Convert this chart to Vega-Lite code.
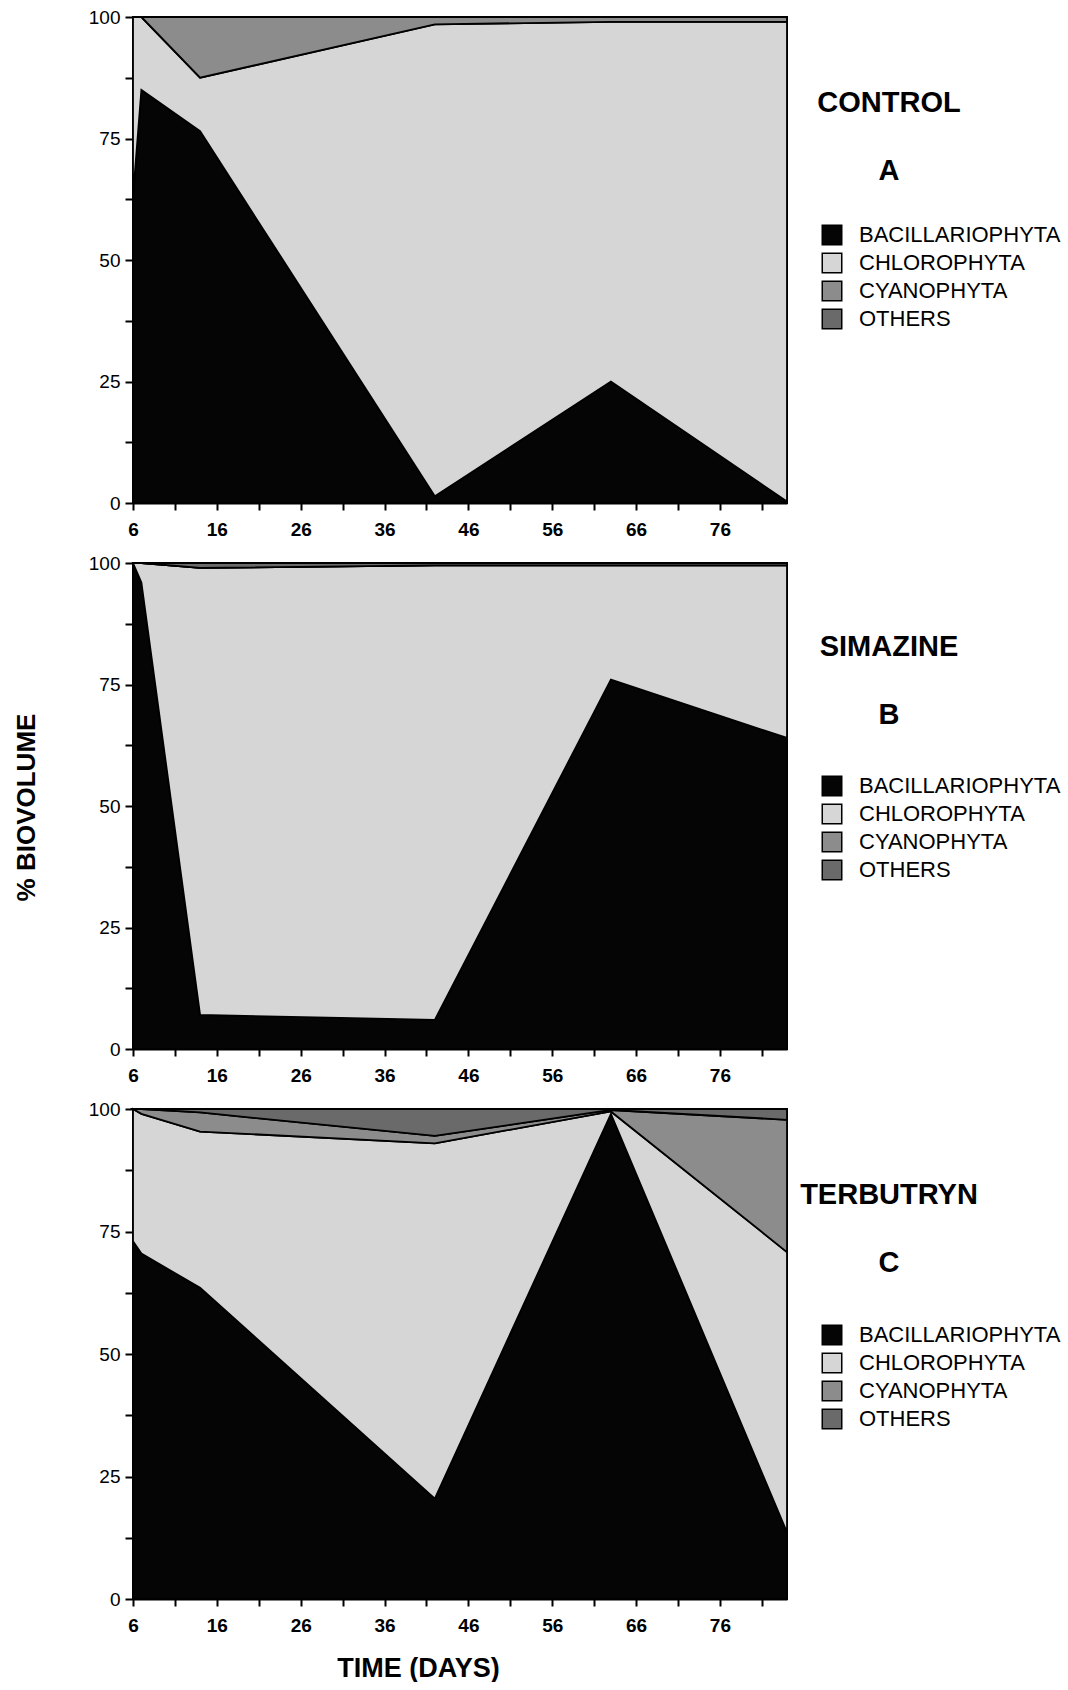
{
  "$schema": "https://vega.github.io/schema/vega-lite/v6.json",
  "background": "white",
  "padding": {"left": 12, "top": 7, "right": 0, "bottom": 0},
  "bounds": "flush",
  "spacing": 60,
  "resolve": {"legend": {"color": "independent"}},
  "config": {
    "font": "Liberation Sans",
    "view": {"stroke": "black", "strokeWidth": 2},
    "axis": {"grid": false, "domainColor": "black", "domainWidth": 2, "tickColor": "black", "tickWidth": 2, "labelColor": "black", "labelFont": "Liberation Sans", "labelFontSize": 19, "titleColor": "black", "titleFont": "Liberation Sans", "titleFontWeight": "bold", "titleFontSize": 26},
    "axisX": {"tickSize": 7, "labelPadding": 10, "labelFontWeight": "bold"},
    "axisY": {"tickSize": 8, "labelPadding": 5},
    "title": {"anchor": "middle", "frame": "group", "align": "center", "fontSize": 29, "fontWeight": "bold", "color": "black", "subtitleFontSize": 29, "subtitleFontWeight": "bold", "subtitleColor": "black", "subtitleFont": "Liberation Sans", "subtitlePadding": 39, "dx": 429, "offset": 0},
    "legend": {"orient": "none", "legendX": 688, "title": null, "symbolType": "square", "symbolSize": 380, "symbolStrokeColor": "black", "symbolStrokeWidth": 1.5, "symbolOpacity": 1, "labelFont": "Liberation Sans", "labelFontSize": 22, "labelColor": "black", "labelLimit": 400, "rowPadding": 2, "labelOffset": 16}
  },
  "datasets": {
    "bio": [
      {"panel": "A", "day": 6, "group": "BACILLARIOPHYTA", "pct": 63},
      {"panel": "A", "day": 6, "group": "CHLOROPHYTA", "pct": 37},
      {"panel": "A", "day": 6, "group": "CYANOPHYTA", "pct": 0},
      {"panel": "A", "day": 6, "group": "OTHERS", "pct": 0},
      {"panel": "A", "day": 7, "group": "BACILLARIOPHYTA", "pct": 85},
      {"panel": "A", "day": 7, "group": "CHLOROPHYTA", "pct": 15},
      {"panel": "A", "day": 7, "group": "CYANOPHYTA", "pct": 0},
      {"panel": "A", "day": 7, "group": "OTHERS", "pct": 0},
      {"panel": "A", "day": 14, "group": "BACILLARIOPHYTA", "pct": 76.5},
      {"panel": "A", "day": 14, "group": "CHLOROPHYTA", "pct": 11},
      {"panel": "A", "day": 14, "group": "CYANOPHYTA", "pct": 12.5},
      {"panel": "A", "day": 14, "group": "OTHERS", "pct": 0},
      {"panel": "A", "day": 42, "group": "BACILLARIOPHYTA", "pct": 1.4},
      {"panel": "A", "day": 42, "group": "CHLOROPHYTA", "pct": 97.1},
      {"panel": "A", "day": 42, "group": "CYANOPHYTA", "pct": 1.5},
      {"panel": "A", "day": 42, "group": "OTHERS", "pct": 0},
      {"panel": "A", "day": 63, "group": "BACILLARIOPHYTA", "pct": 25},
      {"panel": "A", "day": 63, "group": "CHLOROPHYTA", "pct": 74},
      {"panel": "A", "day": 63, "group": "CYANOPHYTA", "pct": 1},
      {"panel": "A", "day": 63, "group": "OTHERS", "pct": 0},
      {"panel": "A", "day": 84, "group": "BACILLARIOPHYTA", "pct": 0.3},
      {"panel": "A", "day": 84, "group": "CHLOROPHYTA", "pct": 98.7},
      {"panel": "A", "day": 84, "group": "CYANOPHYTA", "pct": 1},
      {"panel": "A", "day": 84, "group": "OTHERS", "pct": 0},
      {"panel": "B", "day": 6, "group": "BACILLARIOPHYTA", "pct": 100},
      {"panel": "B", "day": 6, "group": "CHLOROPHYTA", "pct": 0},
      {"panel": "B", "day": 6, "group": "CYANOPHYTA", "pct": 0},
      {"panel": "B", "day": 6, "group": "OTHERS", "pct": 0},
      {"panel": "B", "day": 7, "group": "BACILLARIOPHYTA", "pct": 96},
      {"panel": "B", "day": 7, "group": "CHLOROPHYTA", "pct": 4},
      {"panel": "B", "day": 7, "group": "CYANOPHYTA", "pct": 0},
      {"panel": "B", "day": 7, "group": "OTHERS", "pct": 0},
      {"panel": "B", "day": 14, "group": "BACILLARIOPHYTA", "pct": 7},
      {"panel": "B", "day": 14, "group": "CHLOROPHYTA", "pct": 92},
      {"panel": "B", "day": 14, "group": "CYANOPHYTA", "pct": 0},
      {"panel": "B", "day": 14, "group": "OTHERS", "pct": 1},
      {"panel": "B", "day": 42, "group": "BACILLARIOPHYTA", "pct": 6},
      {"panel": "B", "day": 42, "group": "CHLOROPHYTA", "pct": 93.5},
      {"panel": "B", "day": 42, "group": "CYANOPHYTA", "pct": 0},
      {"panel": "B", "day": 42, "group": "OTHERS", "pct": 0.5},
      {"panel": "B", "day": 63, "group": "BACILLARIOPHYTA", "pct": 76},
      {"panel": "B", "day": 63, "group": "CHLOROPHYTA", "pct": 23.5},
      {"panel": "B", "day": 63, "group": "CYANOPHYTA", "pct": 0},
      {"panel": "B", "day": 63, "group": "OTHERS", "pct": 0.5},
      {"panel": "B", "day": 84, "group": "BACILLARIOPHYTA", "pct": 64},
      {"panel": "B", "day": 84, "group": "CHLOROPHYTA", "pct": 35.5},
      {"panel": "B", "day": 84, "group": "CYANOPHYTA", "pct": 0},
      {"panel": "B", "day": 84, "group": "OTHERS", "pct": 0.5},
      {"panel": "C", "day": 6, "group": "BACILLARIOPHYTA", "pct": 73},
      {"panel": "C", "day": 6, "group": "CHLOROPHYTA", "pct": 27},
      {"panel": "C", "day": 6, "group": "CYANOPHYTA", "pct": 0},
      {"panel": "C", "day": 6, "group": "OTHERS", "pct": 0},
      {"panel": "C", "day": 7, "group": "BACILLARIOPHYTA", "pct": 70.5},
      {"panel": "C", "day": 7, "group": "CHLOROPHYTA", "pct": 28.5},
      {"panel": "C", "day": 7, "group": "CYANOPHYTA", "pct": 1},
      {"panel": "C", "day": 7, "group": "OTHERS", "pct": 0},
      {"panel": "C", "day": 14, "group": "BACILLARIOPHYTA", "pct": 63.5},
      {"panel": "C", "day": 14, "group": "CHLOROPHYTA", "pct": 31.9},
      {"panel": "C", "day": 14, "group": "CYANOPHYTA", "pct": 3.9},
      {"panel": "C", "day": 14, "group": "OTHERS", "pct": 0.7},
      {"panel": "C", "day": 42, "group": "BACILLARIOPHYTA", "pct": 20.5},
      {"panel": "C", "day": 42, "group": "CHLOROPHYTA", "pct": 72.5},
      {"panel": "C", "day": 42, "group": "CYANOPHYTA", "pct": 1.5},
      {"panel": "C", "day": 42, "group": "OTHERS", "pct": 5.5},
      {"panel": "C", "day": 63, "group": "BACILLARIOPHYTA", "pct": 99},
      {"panel": "C", "day": 63, "group": "CHLOROPHYTA", "pct": 0.5},
      {"panel": "C", "day": 63, "group": "CYANOPHYTA", "pct": 0.3},
      {"panel": "C", "day": 63, "group": "OTHERS", "pct": 0.2},
      {"panel": "C", "day": 84, "group": "BACILLARIOPHYTA", "pct": 13.6},
      {"panel": "C", "day": 84, "group": "CHLOROPHYTA", "pct": 57.2},
      {"panel": "C", "day": 84, "group": "CYANOPHYTA", "pct": 27},
      {"panel": "C", "day": 84, "group": "OTHERS", "pct": 2.2}
    ]
  },
  "vconcat": [
    {
      "width": 654, "height": 486,
      "data": {"name": "bio"},
      "transform": [{"filter": "datum.panel === 'A'"}],
      "title": {"text": "CONTROL", "subtitle": "A", "dy": 182},
      "mark": {"type": "area", "stroke": "black", "strokeWidth": 1.8, "opacity": 1},
      "encoding": {
        "x": {"field": "day", "type": "quantitative", "scale": {"domain": [6, 84], "nice": false, "zero": false}, "axis": {"title": null, "values": [6, 11, 16, 21, 26, 31, 36, 41, 46, 51, 56, 61, 66, 71, 76, 81], "labelExpr": "(datum.value - 6) % 10 == 0 ? datum.label : ''", "labelOverlap": false, "labelFlush": false, "labelBound": false}},
        "y": {"field": "pct", "type": "quantitative", "stack": "zero", "scale": {"domain": [0, 100], "nice": false}, "axis": {"title": null, "values": [0, 12.5, 25, 37.5, 50, 62.5, 75, 87.5, 100], "labelExpr": "datum.value % 25 == 0 ? datum.label : ''", "labelOverlap": false, "labelFlush": false, "labelBound": false}},
        "color": {"field": "group", "type": "nominal", "scale": {"domain": ["BACILLARIOPHYTA", "CHLOROPHYTA", "CYANOPHYTA", "OTHERS"], "range": ["#050505", "#d6d6d6", "#8c8c8c", "#6a6a6a"]}, "legend": {"legendY": 207}},
        "order": {"field": "group", "type": "nominal", "sort": "ascending"}
      }
    },
    {
      "width": 654, "height": 486,
      "data": {"name": "bio"},
      "transform": [{"filter": "datum.panel === 'B'"}],
      "title": {"text": "SIMAZINE", "subtitle": "B", "dy": 180},
      "mark": {"type": "area", "stroke": "black", "strokeWidth": 1.8, "opacity": 1},
      "encoding": {
        "x": {"field": "day", "type": "quantitative", "scale": {"domain": [6, 84], "nice": false, "zero": false}, "axis": {"title": null, "values": [6, 11, 16, 21, 26, 31, 36, 41, 46, 51, 56, 61, 66, 71, 76, 81], "labelExpr": "(datum.value - 6) % 10 == 0 ? datum.label : ''", "labelOverlap": false, "labelFlush": false, "labelBound": false}},
        "y": {"field": "pct", "type": "quantitative", "stack": "zero", "scale": {"domain": [0, 100], "nice": false}, "axis": {"title": "% BIOVOLUME", "titleX": -107, "titleY": 244, "titleAngle": 270, "titleAlign": "center", "titleBaseline": "middle", "values": [0, 12.5, 25, 37.5, 50, 62.5, 75, 87.5, 100], "labelExpr": "datum.value % 25 == 0 ? datum.label : ''", "labelOverlap": false, "labelFlush": false, "labelBound": false}},
        "color": {"field": "group", "type": "nominal", "scale": {"domain": ["BACILLARIOPHYTA", "CHLOROPHYTA", "CYANOPHYTA", "OTHERS"], "range": ["#050505", "#d6d6d6", "#8c8c8c", "#6a6a6a"]}, "legend": {"legendY": 212}},
        "order": {"field": "group", "type": "nominal", "sort": "ascending"}
      }
    },
    {
      "width": 654, "height": 490,
      "data": {"name": "bio"},
      "transform": [{"filter": "datum.panel === 'C'"}],
      "title": {"text": "TERBUTRYN", "subtitle": "C", "dy": 182},
      "mark": {"type": "area", "stroke": "black", "strokeWidth": 1.8, "opacity": 1},
      "encoding": {
        "x": {"field": "day", "type": "quantitative", "scale": {"domain": [6, 84], "nice": false, "zero": false}, "axis": {"title": "TIME (DAYS)", "titleX": 285, "titleY": 56, "titleAlign": "center", "titleBaseline": "top", "titleFontSize": 27, "values": [6, 11, 16, 21, 26, 31, 36, 41, 46, 51, 56, 61, 66, 71, 76, 81], "labelExpr": "(datum.value - 6) % 10 == 0 ? datum.label : ''", "labelOverlap": false, "labelFlush": false, "labelBound": false}},
        "y": {"field": "pct", "type": "quantitative", "stack": "zero", "scale": {"domain": [0, 100], "nice": false}, "axis": {"title": null, "values": [0, 12.5, 25, 37.5, 50, 62.5, 75, 87.5, 100], "labelExpr": "datum.value % 25 == 0 ? datum.label : ''", "labelOverlap": false, "labelFlush": false, "labelBound": false}},
        "color": {"field": "group", "type": "nominal", "scale": {"domain": ["BACILLARIOPHYTA", "CHLOROPHYTA", "CYANOPHYTA", "OTHERS"], "range": ["#050505", "#d6d6d6", "#8c8c8c", "#6a6a6a"]}, "legend": {"legendY": 215}},
        "order": {"field": "group", "type": "nominal", "sort": "ascending"}
      }
    }
  ]
}
